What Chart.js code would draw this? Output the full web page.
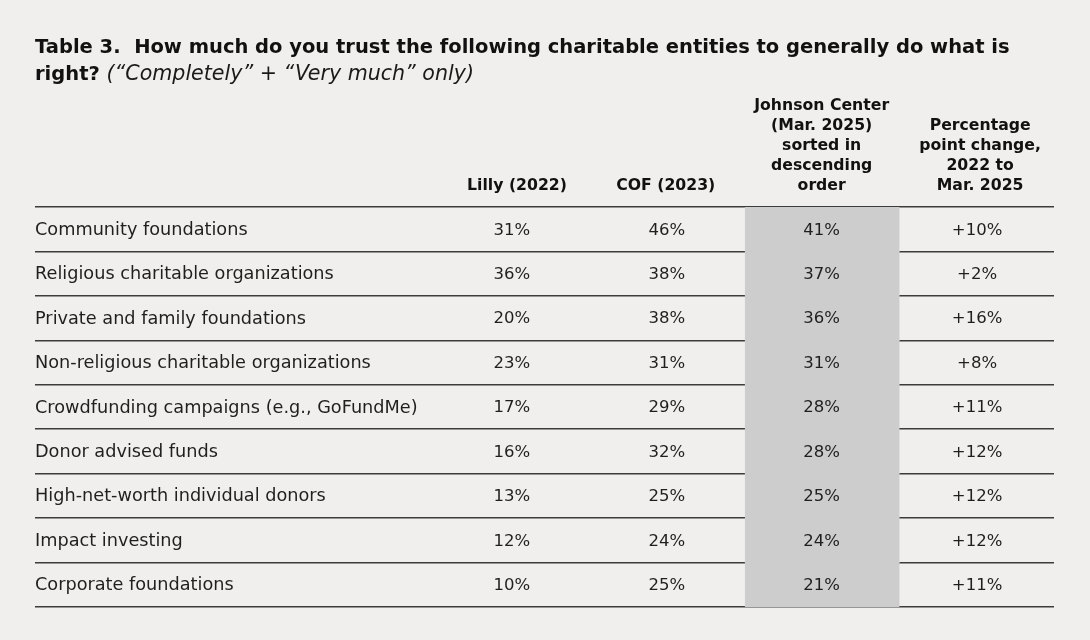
<!DOCTYPE html>
<html><head><meta charset="utf-8">
<script src="https://cdn.jsdelivr.net/npm/chart.js@4"></script>
<style>
html,body{margin:0;padding:0;background:#f0efed;}
#wrap{position:relative;width:1090px;height:640px;overflow:hidden;}
#title{position:absolute;left:35px;top:34px;width:1050px;font-family:"DejaVu Sans";font-size:19.5px;line-height:26px;color:#111;font-weight:700;white-space:nowrap;}
#title i{font-weight:400;color:#1a1a1a;font-size:20.6px;}
canvas{position:absolute;left:0;top:0;}
</style></head><body>
<div id="wrap"><canvas id="c" width="1090" height="640"></canvas>
<div id="title">Table 3.&nbsp; How much do you trust the following charitable entities to generally do what is<br>right? <i>(“Completely” + “Very much” only)</i></div></div>
<script>
const categories = [
  "Community foundations",
  "Religious charitable organizations",
  "Private and family foundations",
  "Non-religious charitable organizations",
  "Crowdfunding campaigns (e.g., GoFundMe)",
  "Donor advised funds",
  "High-net-worth individual donors",
  "Impact investing",
  "Corporate foundations"
];
const lilly2022   = [31, 36, 20, 23, 17, 16, 13, 12, 10];
const cof2023     = [46, 38, 38, 31, 29, 32, 25, 24, 25];
const johnson2025 = [41, 37, 36, 31, 28, 28, 25, 24, 21];
const pointChange = [10, 2, 16, 8, 11, 12, 12, 12, 11];
const columnHeaders = [
  ["Lilly (2022)"],
  ["COF (2023)"],
  ["Johnson Center", "(Mar. 2025)", "sorted in", "descending", "order"],
  ["Percentage", "point change,", "2022 to", "Mar. 2025"]
];

// layout (x scale runs 0..100 across the table width)
const valueCenters = [46.8, 62.0, 77.2, 92.45];
const headerCenters = [47.3, 61.9, 77.2, 92.75];
const highlightBand = [69.7, 84.8];
const FONT = '"DejaVu Sans"';

const tablePlugin = {
  id: 'tableText',
  afterDraw(chart) {
    const {ctx, chartArea} = chart;
    const x = chart.scales.x, y = chart.scales.y;
    ctx.save();
    ctx.fillStyle = '#1f1f1f';
    ctx.textBaseline = 'middle';
    const cols = [lilly2022, cof2023, johnson2025];
    categories.forEach((c, i) => {
      const py = y.getPixelForValue(i) + 1;
      ctx.font = '400 17.7px ' + FONT;
      ctx.textAlign = 'left';
      ctx.fillText(c, chartArea.left, py);
      ctx.textAlign = 'center';
      ctx.font = '400 16.5px ' + FONT;
      cols.forEach((arr, k) => ctx.fillText(arr[i] + '%', x.getPixelForValue(valueCenters[k]), py));
      const v = pointChange[i];
      ctx.fillText((v >= 0 ? '+' : '') + v + '%', x.getPixelForValue(valueCenters[3]), py);
    });
    ctx.font = '700 15.7px ' + FONT;
    ctx.textBaseline = 'alphabetic';
    ctx.fillStyle = '#111';
    ctx.textAlign = 'center';
    columnHeaders.forEach((lines, k) => {
      const px = x.getPixelForValue(headerCenters[k]);
      lines.forEach((l, j) => {
        ctx.fillText(l, px, chartArea.top - 17 - (lines.length - 1 - j) * 20);
      });
    });
    ctx.restore();
  }
};

new Chart(document.getElementById('c'), {
  type: 'bar',
  data: {
    labels: categories,
    datasets: [{
      data: categories.map(() => highlightBand),
      backgroundColor: '#cdcdcd',
      borderWidth: 0,
      barPercentage: 1,
      categoryPercentage: 1
    }]
  },
  options: {
    indexAxis: 'y',
    responsive: false,
    animation: false,
    events: [],
    layout: {padding: {left: 35, right: 36, top: 207, bottom: 33}},
    plugins: {legend: {display: false}, tooltip: {enabled: false}},
    scales: {
      x: {type: 'linear', min: 0, max: 100, display: false},
      y: {
        type: 'category',
        offset: true,
        z: 1,
        ticks: {display: false},
        border: {display: false},
        grid: {offset: true, color: '#3c3c3c', lineWidth: 1.5, drawTicks: false},
        afterFit(s) { s.width = 0; }
      }
    }
  },
  plugins: [tablePlugin]
});
</script>
</body></html>
